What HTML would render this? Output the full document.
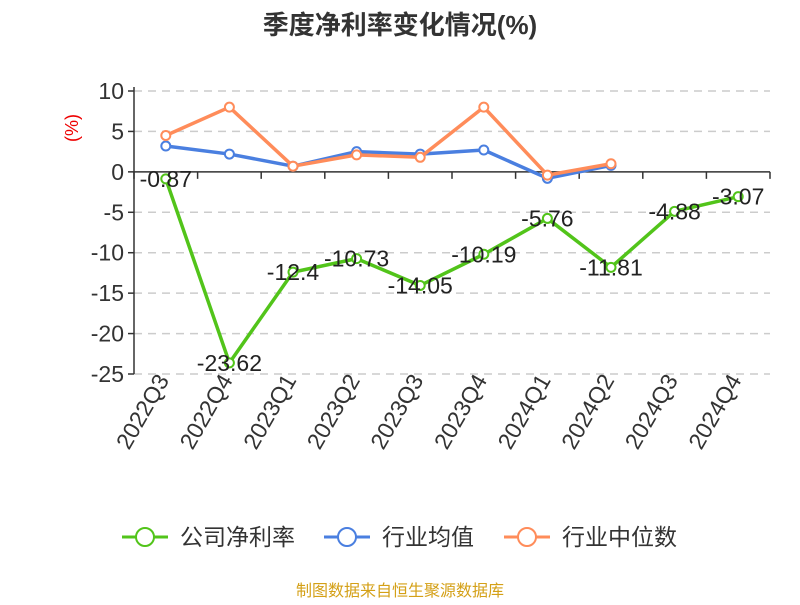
<!DOCTYPE html>
<html><head><meta charset="utf-8"><style>
body{margin:0;background:#fff;font-family:"Liberation Sans","Noto Sans CJK SC",sans-serif}
</style></head><body>
<svg id="c" width="800" height="600" xmlns="http://www.w3.org/2000/svg">
<text x="400" y="34" text-anchor="middle" font-size="26" font-weight="bold" fill="#333" font-family="Liberation Sans,Noto Sans CJK SC,sans-serif">季度净利率变化情况(%)</text>
<text transform="translate(78,128) rotate(-90)" text-anchor="middle" font-size="18" fill="#e00">(%)</text>
<g id="grid"></g><g id="series"></g>
<g font-family="Liberation Sans,Noto Sans CJK SC,sans-serif" font-size="23" fill="#333">
<g><line x1="122" y1="537" x2="168" y2="537" stroke="#52c41a" stroke-width="3"/><circle cx="145" cy="537" r="9" fill="#fff" stroke="#52c41a" stroke-width="2"/><text x="180" y="545">公司净利率</text></g>
<g><line x1="324" y1="537" x2="370" y2="537" stroke="#4a7fe0" stroke-width="3"/><circle cx="347" cy="537" r="9" fill="#fff" stroke="#4a7fe0" stroke-width="2"/><text x="382" y="545">行业均值</text></g>
<g><line x1="504" y1="537" x2="550" y2="537" stroke="#ff8c5a" stroke-width="3"/><circle cx="527" cy="537" r="9" fill="#fff" stroke="#ff8c5a" stroke-width="2"/><text x="562" y="545">行业中位数</text></g>
</g>
<text x="400" y="596" text-anchor="middle" font-size="16" fill="#d4a017">制图数据来自恒生聚源数据库</text>
</svg>
<script>
const categories=["2022Q3","2022Q4","2023Q1","2023Q2","2023Q3","2023Q4","2024Q1","2024Q2","2024Q3","2024Q4"];
const company=[-0.87,-23.62,-12.4,-10.73,-14.05,-10.19,-5.76,-11.81,-4.88,-3.07];
const industryAvg=[3.2,2.2,0.7,2.5,2.2,2.7,-0.8,0.8];
const industryMedian=[4.5,8.0,0.7,2.1,1.8,8.0,-0.4,1.0];
const yTicks=[10,5,0,-5,-10,-15,-20,-25];
const NS="http://www.w3.org/2000/svg";
const x0=134,x1=770,yTop=91,yBot=374,vMax=10,vMin=-25;
const step=(x1-x0)/categories.length;
const X=i=>x0+step*(i+0.5);
const Y=v=>yTop+(vMax-v)/(vMax-vMin)*(yBot-yTop);
function mk(tag,attrs,parent){const e=document.createElementNS(NS,tag);for(const k in attrs)e.setAttribute(k,attrs[k]);parent.appendChild(e);return e;}
const grid=document.getElementById('grid');
yTicks.forEach(t=>{
 if(t!==0){const l=mk('line',{x1:x0,x2:x1,y1:Y(t),y2:Y(t),stroke:'#ccc','stroke-dasharray':'8,6','stroke-width':1.5},grid);
 
 }
 const tk=mk('line',{x1:x0-6,x2:x0,y1:Y(t),y2:Y(t),stroke:'#333','stroke-width':1.5},grid);
 
 
 const tx=mk('text',{x:x0-10,y:Y(t)+8,'text-anchor':'end','font-size':23,fill:'#333'},grid);
 tx.textContent=t;
 
 
});
const ya=mk('line',{x1:x0,x2:x0,y1:yTop-4,y2:yBot,stroke:'#333','stroke-width':1.5},grid);


const xa=mk('line',{x1:x0,x2:x1,y1:Y(0),y2:Y(0),stroke:'#333','stroke-width':1.5},grid);


for(let i=0;i<=categories.length;i++){
 const tk=mk('line',{x1:x0+step*i,x2:x0+step*i,y1:Y(0),y2:Y(0)+7,stroke:'#333','stroke-width':1.5},grid);
 
 
}
categories.forEach((c,i)=>{
 const tx=mk('text',{transform:`translate(${X(i)+4},${yBot+6}) rotate(-60)`,'text-anchor':'end','font-size':23,fill:'#333'},grid);
 tx.textContent=c;
 
 
});
const ser=document.getElementById('series');
function line(vals,color,name,labels){
 const g=mk('g',{},ser);
 
 
 const p=mk('polyline',{points:vals.map((v,i)=>X(i)+','+Y(v)).join(' '),fill:'none',stroke:color,'stroke-width':3.5,'stroke-linejoin':'round'},g);
 
 
 vals.forEach((v,i)=>{
  const c=mk('circle',{cx:X(i),cy:Y(v),r:4.5,fill:'#fff',stroke:color,'stroke-width':2},g);
  
  
  if(labels){
   const t=mk('text',{x:X(i),y:Y(v)+8,'text-anchor':'middle','font-size':23,fill:'#222'},g);
   t.textContent=v;
   
   
  }
 });
}
line(industryAvg,'#4a7fe0','industry-avg-series',false);
line(industryMedian,'#ff8c5a','industry-median-series',false);
line(company,'#52c41a','company-series',true);
</script>
</body></html>
